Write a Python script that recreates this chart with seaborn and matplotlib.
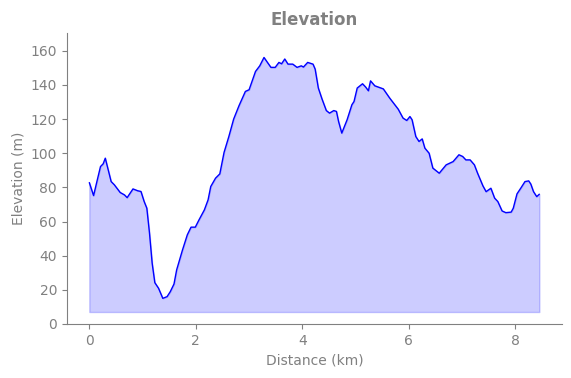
import numpy as np
import pandas as pd
import matplotlib
matplotlib.use('Agg')
import matplotlib.pyplot as plt
import seaborn as sns

# distance (km) and elevation (m)
distance = [0.00, 0.08, 0.15, 0.21, 0.26, 0.30, 0.41, 0.47, 0.58, 0.66, 0.71, 0.82,
            0.91, 0.97, 1.03, 1.08, 1.13, 1.18, 1.23, 1.30, 1.38, 1.46, 1.52, 1.59,
            1.64, 1.75, 1.84, 1.91, 1.99, 2.06, 2.16, 2.23, 2.28, 2.37, 2.45, 2.53,
            2.62, 2.71, 2.81, 2.93, 3.00, 3.12, 3.20, 3.28, 3.34, 3.41, 3.49, 3.56,
            3.61, 3.67, 3.73, 3.82, 3.90, 3.98, 4.02, 4.10, 4.20, 4.24, 4.30, 4.37,
            4.45, 4.51, 4.59, 4.64, 4.68, 4.74, 4.84, 4.93, 4.97, 5.03, 5.13, 5.19,
            5.24, 5.28, 5.36, 5.52, 5.64, 5.80, 5.89, 5.96, 6.02, 6.06, 6.13, 6.19,
            6.25, 6.30, 6.38, 6.45, 6.57, 6.70, 6.83, 6.94, 7.01, 7.07, 7.15, 7.23,
            7.29, 7.39, 7.45, 7.54, 7.61, 7.67, 7.75, 7.82, 7.92, 7.96, 8.03, 8.10,
            8.18, 8.25, 8.29, 8.34, 8.40, 8.45]
elevation = [82.8, 75.2, 84.4, 92.2, 93.8, 97.1, 83.4, 81.5, 77.0, 75.6, 74.0, 79.1,
             78.0, 77.6, 71.7, 67.8, 53.2, 35.6, 24.2, 20.9, 15.0, 16.0, 18.9, 23.4,
             31.7, 43.4, 52.2, 56.7, 56.7, 61.0, 66.8, 72.7, 80.5, 85.4, 87.9, 100.5,
             109.8, 120.0, 127.8, 136.2, 137.2, 147.9, 151.2, 156.1, 153.4, 150.3, 150.3, 153.2,
             152.4, 155.2, 152.2, 152.2, 150.3, 151.2, 150.5, 153.2, 152.2, 149.3, 138.2, 131.7,
             125.0, 123.5, 125.0, 124.5, 118.6, 111.8, 119.6, 128.4, 130.3, 138.2, 140.7, 138.7,
             136.6, 142.4, 139.5, 137.7, 132.3, 125.8, 120.6, 119.2, 121.5, 119.6, 109.8, 106.9,
             108.4, 103.0, 100.0, 91.3, 88.3, 93.2, 95.1, 99.1, 98.1, 96.1, 96.1, 93.2,
             88.3, 80.9, 77.5, 79.5, 73.7, 71.7, 66.2, 65.2, 65.5, 67.8, 76.2, 79.5,
             83.4, 83.8, 81.9, 77.5, 74.6, 76.0]

df = pd.DataFrame({'distance': distance, 'elevation': elevation})

sns.set_style('ticks')
plt.rcParams['font.family'] = ['DejaVu Sans']
grey = '#808080'

fig, ax = plt.subplots(figsize=(5.71, 3.78), dpi=100)
ax.fill_between(df['distance'], df['elevation'], 7, color='blue', alpha=0.2)
sns.lineplot(data=df, x='distance', y='elevation', color='blue', linewidth=1, ax=ax)

ax.set_ylim(0, 170.5)
ax.set_title('Elevation', color=grey, fontweight='bold', fontsize=12)
ax.set_xlabel('Distance (km)', color=grey)
ax.set_ylabel('Elevation (m)', color=grey)
ax.tick_params(colors=grey)
for s in ['left', 'bottom']:
    ax.spines[s].set_color(grey)
sns.despine(ax=ax)

fig.subplots_adjust(left=0.117, right=0.984, bottom=0.143, top=0.913)
plt.savefig('out.png', dpi=100)
